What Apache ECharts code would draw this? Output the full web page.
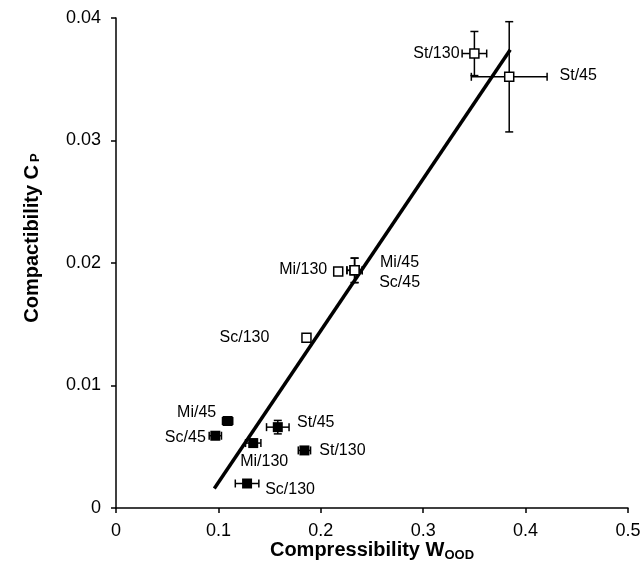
<!DOCTYPE html>
<html>
<head>
<meta charset="utf-8">
<script src="https://cdn.jsdelivr.net/npm/echarts@6/dist/echarts.min.js"></script>
<style>
  html, body { margin: 0; padding: 0; background: #fff; }
  #chart { width: 641px; height: 562px; }
</style>
</head>
<body>
<div id="chart"></div>
<script>
// data
const filledNames = ['Mi/45', 'Sc/45', 'Mi/130', 'St/45', 'St/130', 'Sc/130'];
const filledX = [0.109, 0.097, 0.134, 0.158, 0.184, 0.128];
const filledY = [0.0071, 0.0059, 0.0053, 0.0066, 0.0047, 0.0020];
const filledXErr = [0.005, 0.006, 0.0075, 0.011, 0.006, 0.0115];
const filledYErr = [0.0003, 0.0003, 0.0003, 0.00055, 0.0003, 0.0003];

const openNames = ['St/130', 'St/45', 'Mi/130', 'Mi/45', 'Sc/45', 'Sc/130'];
const openX = [0.350, 0.384, 0.217, 0.233, 0.233, 0.186];
const openY = [0.0371, 0.0352, 0.0193, 0.0194, 0.0194, 0.0139];
const openXErr = [0.012, 0.037, 0.004, 0.0075, 0.0075, 0.002];
const openYErr = [0.0018, 0.0045, 0.0003, 0.001, 0.001, 0.0003];

const fitX = [0.096, 0.385];
const fitY = [0.0016, 0.0374];

const xTicks = [0, 0.1, 0.2, 0.3, 0.4, 0.5];
const yTicks = [0, 0.01, 0.02, 0.03, 0.04];

// label offsets (px, from the marker centre)
const filledLabelOffset = [[-31, -8], [-30, 2], [11, 19], [38, -5], [38, 0], [43, 6]];
const openLabelOffset = [[-38, 0], [69, -1], [-35, -2], [45, -8], [45, 12], [-62, 0]];

function errData(xs, ys, ex, ey){
    let arr = [];
    for (let i = 0; i < xs.length; i++){
        arr.push([xs[i], ys[i], ex[i], ey[i]]);
    }
    return arr;
}

function pointData(names, xs, ys, offs){
    let arr = [];
    for (let i = 0; i < xs.length; i++){
        arr.push({
            name: names[i],
            value: [xs[i], ys[i]],
            label: { offset: offs[i] }
        });
    }
    return arr;
}

//误差线
function renderErr(params, api){
    let x = api.value(0), y = api.value(1), ex = api.value(2), ey = api.value(3);
    let l = api.coord([x - ex, y]);
    let r = api.coord([x + ex, y]);
    let t = api.coord([x, y + ey]);
    let b = api.coord([x, y - ey]);
    let cap = 4;
    let st = { stroke: '#000', lineWidth: 1.5, fill: null };
    let line = (x1, y1, x2, y2) => ({ type: 'line', shape: { x1, y1, x2, y2 }, style: st });
    return {
        type: 'group',
        children: [
            line(l[0], l[1], r[0], r[1]),
            line(l[0], l[1] - cap, l[0], l[1] + cap),
            line(r[0], r[1] - cap, r[0], r[1] + cap),
            line(t[0], t[1], b[0], b[1]),
            line(t[0] - cap, t[1], t[0] + cap, t[1]),
            line(b[0] - cap, b[1], b[0] + cap, b[1])
        ]
    };
}

const axisFont = 'Liberation Sans, Arial, sans-serif';

const labelStyle = {
    show: true,
    position: 'inside',
    formatter: '{b}',
    color: '#000',
    fontSize: 16,
    fontFamily: axisFont
};

const titleRich = {
    a: { fontSize: 20, fontWeight: 'bold', fontFamily: axisFont, color: '#000' },
    b: { fontSize: 13, fontWeight: 'bold', fontFamily: axisFont, color: '#000', padding: [10, 0, 0, 0] }
};

let myChart = echarts.init(document.getElementById('chart'));
let option = {
    animation: false,
    grid: { left: 116, right: 13, top: 18, bottom: 54, outerBoundsMode: 'none', containLabel: false },
    graphic: [{
        type: 'text',
        x: 372,
        y: 550,
        style: {
            text: '{a|Compressibility W}{b|OOD}',
            rich: titleRich,
            align: 'center',
            verticalAlign: 'middle'
        }
    }],
    xAxis: {
        type: 'value',
        min: 0, max: 0.5, interval: 0.1,
        axisLine: { lineStyle: { color: '#000', width: 1.5 } },
        axisTick: { length: 5, lineStyle: { color: '#000', width: 1.5 } },
        axisLabel: {
            color: '#000', fontSize: 18, fontFamily: axisFont, margin: 14,
            formatter: v => xTicks.indexOf(+v.toFixed(1)) >= 0 ? String(+v.toFixed(1)) : ''
        },
        splitLine: { show: false }
    },
    yAxis: {
        type: 'value',
        min: 0, max: 0.04, interval: 0.01,
        name: '{a|Compactibility C}{b|P}',
        nameLocation: 'middle',
        nameGap: 74,
        nameTextStyle: {
            padding: [0, 0, 0, 50],
            rich: {
                a: { fontSize: 20, fontWeight: 'bold', fontFamily: axisFont, color: '#000' },
                b: { fontSize: 13, fontWeight: 'bold', fontFamily: axisFont, color: '#000', padding: [6, 0, 0, 3] }
            }
        },
        axisLine: { show: true, lineStyle: { color: '#000', width: 1.5 } },
        axisTick: { show: true, length: 5, lineStyle: { color: '#000', width: 1.5 } },
        axisLabel: {
            color: '#000', fontSize: 18, fontFamily: axisFont, margin: 15,
            formatter: v => yTicks.indexOf(+v.toFixed(2)) >= 0 ? String(+v.toFixed(2)) : ''
        },
        splitLine: { show: false }
    },
    series: [
        {
            type: 'line',
            data: fitX.map((x, i) => [x, fitY[i]]),
            symbol: 'none',
            lineStyle: { color: '#000', width: 3.5 },
            z: 2
        },
        {
            type: 'custom',
            renderItem: renderErr,
            data: errData(filledX, filledY, filledXErr, filledYErr),
            z: 3
        },
        {
            type: 'custom',
            renderItem: renderErr,
            data: errData(openX, openY, openXErr, openYErr),
            z: 3
        },
        {
            type: 'scatter',
            symbol: 'rect',
            symbolSize: 10,
            itemStyle: { color: '#000', opacity: 1 },
            label: labelStyle,
            data: pointData(filledNames, filledX, filledY, filledLabelOffset),
            z: 4
        },
        {
            type: 'scatter',
            symbol: 'rect',
            symbolSize: 9,
            itemStyle: { color: '#fff', borderColor: '#000', borderWidth: 1.5, opacity: 1 },
            label: labelStyle,
            data: pointData(openNames, openX, openY, openLabelOffset),
            z: 4
        }
    ]
};
myChart.setOption(option);
</script>
</body>
</html>
